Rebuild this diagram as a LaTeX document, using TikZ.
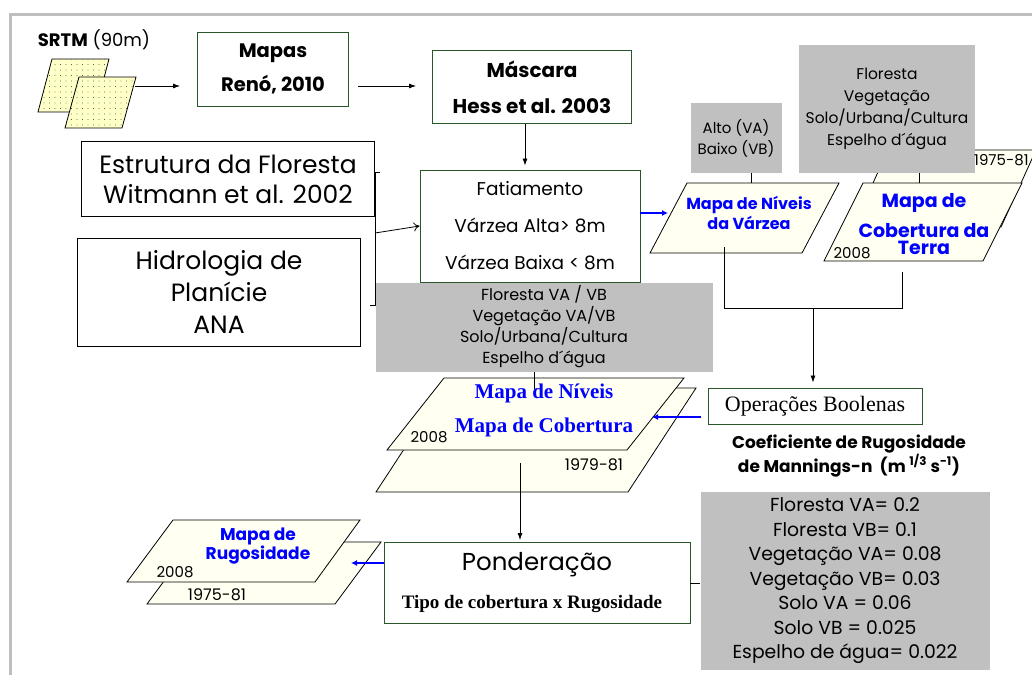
\documentclass[tikz,border=0pt]{standalone}
\usepackage{fontspec}
\setmainfont{Poppins}
\newfontfamily\palfont{Liberation Serif}
\usepackage{tikz}
\usetikzlibrary{arrows.meta,patterns.meta,calc}

\definecolor{boxgreen}{RGB}{40,86,40}
\definecolor{boxgray}{RGB}{192,192,192}
\definecolor{framegray}{RGB}{190,190,190}
\definecolor{sheetfill}{RGB}{255,255,242}
\definecolor{srtmfill}{RGB}{255,255,200}

\newcommand{\fsz}[2]{\fontsize{#1}{#2}\selectfont}

\begin{document}
\begin{tikzpicture}[x=1pt,y=-1pt,
  box/.style={draw=boxgreen,line width=0.9pt,fill=white,align=center,inner sep=0pt},
  blackbox/.style={draw=black,line width=0.9pt,fill=white,align=center,inner sep=0pt},
  graybox/.style={fill=boxgray,align=center,inner sep=0pt},
  sheet/.style={draw=black,line width=0.8pt,fill=sheetfill},
  yeartxt/.style={font=\fsz{15}{18},inner sep=0pt},
  arr/.style={-{Latex[length=7pt,width=5pt]},line width=0.8pt},
  bluearr/.style={-{Latex[length=6pt,width=6pt]},blue,line width=1.5pt},
  conn/.style={line width=0.8pt}]

\useasboundingbox (0,0) rectangle (1032,675);
\clip (0,0) rectangle (1032,675);

% Frame
\draw[framegray,line width=3pt] (10,675) -- (10,14) -- (1032,14);

% SRTM
\node[font=\fsz{18}{20}] (srtm) at (94,40) {{\bfseries SRTM} (90m)};
\filldraw[conn,fill=srtmfill] (52,59) -- (109,59) -- (95,112) -- (38,112) -- cycle;
\fill[pattern={Dots[distance=5.5pt,radius=0.45pt]}] (52,59) -- (109,59) -- (95,112) -- (38,112) -- cycle;
\filldraw[conn,fill=srtmfill] (79,77) -- (136,77) -- (122,128) -- (65,128) -- cycle;
\fill[pattern={Dots[distance=5.5pt,radius=0.45pt]}] (79,77) -- (136,77) -- (122,128) -- (65,128) -- cycle;
\coordinate (srtmR) at (135,86);

% Mapas and Mascara
\node[box,minimum width=151pt,minimum height=74pt,font=\bfseries\fsz{19.5}{34}] (mapas) at (273,69) {Mapas\\Renó, 2010};
\node[box,minimum width=199pt,minimum height=73pt,font=\bfseries\fsz{20}{36}] (mascara) at (532,87) {Máscara\\Hess et al. 2003};
\draw[arr,shorten >=17pt] (srtmR) -- (srtmR -| mapas.west);
\draw[arr,shorten <=9pt,shorten >=16pt] (mapas.east |- srtmR) -- (mascara.west |- srtmR);

% Inputs on the left
\node[blackbox,minimum width=293pt,minimum height=75pt,font=\fsz{25}{30}] (estr) at (228,179) {Estrutura da Floresta\\Witmann et al. 2002};
\node[blackbox,minimum width=283pt,minimum height=108pt,font=\fsz{25}{32}] (hidro) at (219,292) {Hidrologia de\\Planície\\ANA};
\coordinate (brTop) at (375,172);
\coordinate (brBot) at (375,305);
\coordinate (brMid) at (375,233);
\draw[conn] ([xshift=5pt]brTop) -- (brTop) -- (brBot) -- ([xshift=-5pt]brBot);

% Fatiamento
\node[graybox,minimum width=337pt,minimum height=89pt,font=\fsz{16}{21}] (classes) at (544,327) {Floresta VA / VB\\Vegetação VA/VB\\Solo/Urbana/Cultura\\Espelho d´água};
\node[box,minimum width=220pt,minimum height=112pt,font=\fsz{18.5}{37}] (fatia) at (530,226) {Fatiamento\\Várzea Alta> 8m\\Várzea Baixa < 8m};
\draw[arr,shorten >=4pt] ([xshift=-7pt]mascara.south) -- ([xshift=-7pt]mascara.south |- fatia.north);
\draw[-{To[length=6pt,width=9pt]},conn] (brMid) -- (fatia.west);

% Mapa de Niveis da Varzea
\node[graybox,minimum width=91pt,minimum height=70pt,font=\fsz{15}{21}] (alto) at (736,138) {Alto (VA)\\Baixo (VB)};
\filldraw[sheet] (687,183) -- (839,183) -- (802,253) -- (650,253) -- cycle;
\node[text=blue,align=center,font=\bfseries\fsz{16}{20}] (niveis) at (749,213) {Mapa de Níveis\\da Várzea};
\coordinate (nivTop) at (751,183);
\coordinate (nivL) at (668,213);
\draw[conn] (alto.south -| nivTop) -- (nivTop);
\draw[bluearr] (fatia.east |- nivL) -- (nivL);

% Mapa de Cobertura da Terra
\filldraw[sheet] (888,150) -- (1036,150) -- (1001,227) -- (853,227) -- cycle;
\node[graybox,minimum width=176pt,minimum height=128pt,font=\fsz{15.5}{22}] (cobClasses) at (887,109) {Floresta\\Vegetação\\Solo/Urbana/Cultura\\Espelho d´água};
\node[yeartxt,anchor=west] (cob1975) at (974,160) {1975-81};
\filldraw[sheet] (863,183) -- (1022,183) -- (983,261) -- (824,261) -- cycle;
\node[text=blue,align=center,font=\bfseries\fsz{19}{22}] (cobertura) at (924,224) {Mapa de\\[8pt]Cobertura da\\[-5pt]Terra};
\node[yeartxt] (cob2008) at (852,253) {2008};
\coordinate (cobTop) at (919,183);
\draw[conn] (cobClasses.south -| cobTop) -- (cobTop);

% Operacoes Boolenas
\node[box,minimum width=214pt,minimum height=36pt,font=\palfont\fsz{22}{24}] (opbool) at (815,406) {Operações Boolenas};
\coordinate (nivBot) at (724,247);
\coordinate (cobBot) at (902,272);
\coordinate (join) at (813,308);
\draw[conn] (nivBot) -- (nivBot |- join) -- (cobBot |- join) -- (cobBot);
\draw[arr,shorten >=5pt] (join) -- (join |- opbool.north);
\node[align=center,font=\bfseries\fsz{17}{21}] (coef) at (849,456) {Coeficiente de Rugosidade\\de Mannings-n\ \ (m \textsuperscript{1/3} s\textsuperscript{-1})};

% Mapa de Niveis / Mapa de Cobertura
\filldraw[sheet] (444,388) -- (696,388) -- (628,492) -- (376,492) -- cycle;
\filldraw[sheet] (444,378) -- (684,378) -- (627,450) -- (387,450) -- cycle;
\node[text=blue,align=center,font=\palfont\bfseries\fsz{21}{34}] (mapTxt) at (544,410) {Mapa de Níveis\\Mapa de Cobertura};
\node[yeartxt] (map2008) at (429,437) {2008};
\node[yeartxt,font=\fsz{16}{18}] (map1979) at (594,465) {1979-81};
\coordinate (tick) at (534,389);
\draw[conn] (classes.south -| tick) -- (tick);
\coordinate (mapL) at (652,417);
\draw[bluearr,shorten <=7pt] (opbool.west |- mapL) -- (mapL);

% Ponderacao
\node[box,minimum width=306pt,minimum height=81pt] (pond) at (537,583) {};
\node[font=\fsz{24.5}{30}] (pondT) at (537,565) {Ponderação};
\node[font=\palfont\bfseries\fsz{19}{20}] (pondS) at (532,604) {Tipo de cobertura x Rugosidade};
\coordinate (mapBot) at (520,463);
\draw[arr,shorten >=2pt] (mapBot) -- (mapBot |- pond.north);

% Mapa de Rugosidade
\filldraw[sheet] (193,542) -- (381,542) -- (335,604) -- (147,604) -- cycle;
\filldraw[sheet] (173,520) -- (360,520) -- (315,582) -- (127,582) -- cycle;
\node[text=blue,align=center,font=\bfseries\fsz{17}{18}] (rugTxt) at (258,546) {Mapa de\\Rugosidade};
\node[yeartxt] (rug2008) at (175,572) {2008};
\node[yeartxt,font=\fsz{16}{18}] (rug1975) at (217,595) {1975-81};
\coordinate (rugR) at (351,563);
\draw[bluearr] (pond.west |- rugR) -- (rugR);

% Valores de n
\node[graybox,minimum width=289pt,minimum height=178pt,font=\fsz{18.8}{24.5}] (vals) at (845,581) {Floresta VA= 0.2\\Floresta VB= 0.1\\Vegetação VA= 0.08\\Vegetação VB= 0.03\\Solo VA = 0.06\\Solo VB = 0.025\\Espelho de água= 0.022};
\draw[conn] (pond.east) -- (pond.east -| vals.west);

\end{tikzpicture}
\end{document}
